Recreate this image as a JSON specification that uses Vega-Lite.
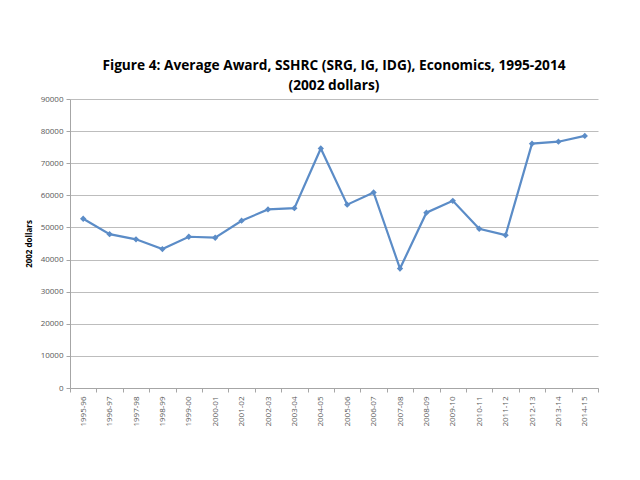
{
  "$schema": "https://vega.github.io/schema/vega-lite/v6.json",
  "width": 528,
  "height": 289,
  "autosize": {"type": "none"},
  "padding": {"left": 70, "top": 99, "right": 42, "bottom": 92},
  "background": "white",
  "title": {
    "text": ["Figure 4: Average Award, SSHRC (SRG, IG, IDG), Economics, 1995-2014", "(2002 dollars)"],
    "font": "Open Sans",
    "fontSize": 13.7,
    "fontWeight": "bold",
    "color": "#000000",
    "anchor": "middle",
    "lineHeight": 20,
    "offset": 2
  },
  "data": {
    "values": [
      {"year": "1995-96", "value": 52700},
      {"year": "1996-97", "value": 47900},
      {"year": "1997-98", "value": 46300},
      {"year": "1998-99", "value": 43250},
      {"year": "1999-00", "value": 47100},
      {"year": "2000-01", "value": 46800},
      {"year": "2001-02", "value": 52100},
      {"year": "2002-03", "value": 55600},
      {"year": "2003-04", "value": 56000},
      {"year": "2004-05", "value": 74600},
      {"year": "2005-06", "value": 57100},
      {"year": "2006-07", "value": 60900},
      {"year": "2007-08", "value": 37200},
      {"year": "2008-09", "value": 54600},
      {"year": "2009-10", "value": 58300},
      {"year": "2010-11", "value": 49600},
      {"year": "2011-12", "value": 47600},
      {"year": "2012-13", "value": 76100},
      {"year": "2013-14", "value": 76700},
      {"year": "2014-15", "value": 78500}
    ]
  },
  "config": {
    "view": {"stroke": null},
    "axis": {
      "labelFont": "Open Sans",
      "titleFont": "Open Sans",
      "labelColor": "#595959",
      "labelFontSize": 8,
      "domainColor": "#a6a6a6",
      "tickColor": "#a6a6a6",
      "gridColor": "#bdbdbd",
      "gridWidth": 1
    }
  },
  "mark": {"type": "line", "color": "#5b8cc7", "strokeWidth": 2.2, "point": {"shape": "diamond", "size": 40, "filled": true, "color": "#5b8cc7"}},
  "encoding": {
    "x": {
      "field": "year",
      "type": "ordinal",
      "scale": {"paddingInner": 0, "paddingOuter": 0},
      "axis": {
        "title": null,
        "labelAngle": -90,
        "tickBand": "extent",
        "tickSize": 4,
        "labelPadding": 4,
        "grid": false
      }
    },
    "y": {
      "field": "value",
      "type": "quantitative",
      "scale": {"domain": [0, 90000], "nice": false},
      "axis": {
        "title": "2002 dollars",
        "titleFontSize": 8,
        "titleFontWeight": "bold",
        "titleColor": "#000000",
        "titlePadding": 7,
        "values": [0, 10000, 20000, 30000, 40000, 50000, 60000, 70000, 80000, 90000],
        "format": "d",
        "tickSize": 4,
        "labelPadding": 3
      }
    }
  }
}
